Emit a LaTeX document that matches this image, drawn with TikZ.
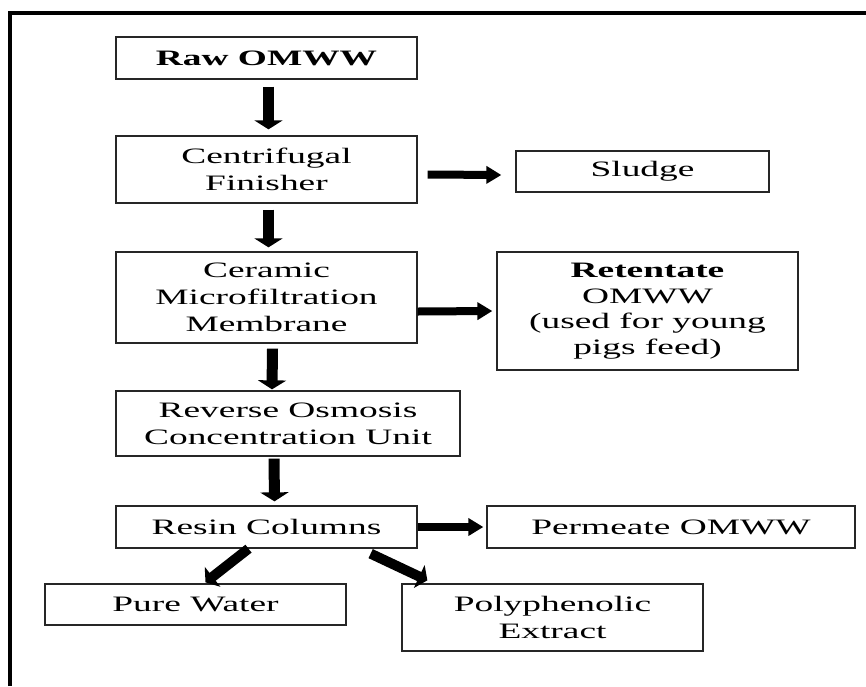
\documentclass[tikz,border=0pt]{standalone}
\usepackage{fontspec}
\setmainfont{Liberation Serif}[FakeStretch=1.7]
\usetikzlibrary{arrows.meta}
\begin{document}
\begin{tikzpicture}[x=1pt,y=-1pt,
  box/.style={draw=black!85,line width=1.3pt,inner sep=0pt,align=center,
    font=\fontsize{22}{27}\selectfont},
  varr/.style={line width=11pt,-{Triangle[width=28pt,length=9pt]}},
  harr/.style={line width=8pt,-{Triangle[width=17pt,length=15pt]}},
  darr/.style={line width=10pt,-{Triangle[width=25pt,length=9pt]}}]
\useasboundingbox (0,0) rectangle (866,686);
\draw[line width=4pt] (10,686) -- (10,13) -- (866,13);
\node[box,minimum width=301pt,minimum height=42pt] (raw) at (266.5,58) {\textbf{Raw OMWW}};
\node[box,minimum width=301pt,minimum height=67pt] (cf) at (266.5,169.5) {Centrifugal\\Finisher};
\node[box,minimum width=253pt,minimum height=41pt] (sludge) at (642.5,171.5) {Sludge};
\node[box,minimum width=301pt,minimum height=91pt] (cer) at (266.5,297.5) {Ceramic\\Microfiltration\\Membrane};
\node[box,minimum width=301pt,minimum height=118pt,font=\fontsize{22}{25.5}\selectfont] (ret) at (647.5,311) {\textbf{Retentate}\\OMWW\\(used for young\\pigs feed)};
\node[box,minimum width=344pt,minimum height=65pt] (ro) at (288,423.5) {Reverse Osmosis\\Concentration Unit};
\node[box,minimum width=301pt,minimum height=42pt] (resin) at (266.5,527) {Resin Columns};
\node[box,minimum width=368pt,minimum height=42pt] (perm) at (671,527) {Permeate OMWW};
\node[box,minimum width=301pt,minimum height=41pt] (pure) at (195.5,604.5) {Pure Water};
\node[box,minimum width=301pt,minimum height=67pt] (poly) at (552.5,617.5) {Polyphenolic\\Extract};
% vertical arrows
\draw[varr] ([xshift=2pt,yshift=-7pt]raw.south) -- ([xshift=2pt,yshift=6pt]cf.north);
\draw[varr] ([xshift=2pt,yshift=-6pt]cf.south) -- ([xshift=2pt,yshift=4pt]cer.north);
\draw[varr] ([xshift=6pt,yshift=-5pt]cer.south) -- ([xshift=-16pt,yshift=1pt]ro.north);
\draw[varr] ([xshift=-14pt,yshift=-2pt]ro.south) -- ([xshift=8pt,yshift=4pt]resin.north);
% horizontal arrows
\draw[harr] ([xshift=10pt,yshift=-5pt]cf.east) -- ([xshift=-14pt,yshift=-3.5pt]sludge.west);
\draw[harr] ([yshift=-14pt]cer.east) -- ([xshift=-4pt]ret.west);
\draw[harr] (resin.east) -- ([xshift=-3pt]perm.west);
% diagonal arrows
\draw[darr] ([xshift=-18pt]resin.south) -- ([xshift=10pt,yshift=1pt]pure.north);
\draw[darr] ([xshift=-47pt,yshift=-5pt]resin.south east) -- ([xshift=26pt,yshift=3pt]poly.north west);
\end{tikzpicture}
\end{document}
